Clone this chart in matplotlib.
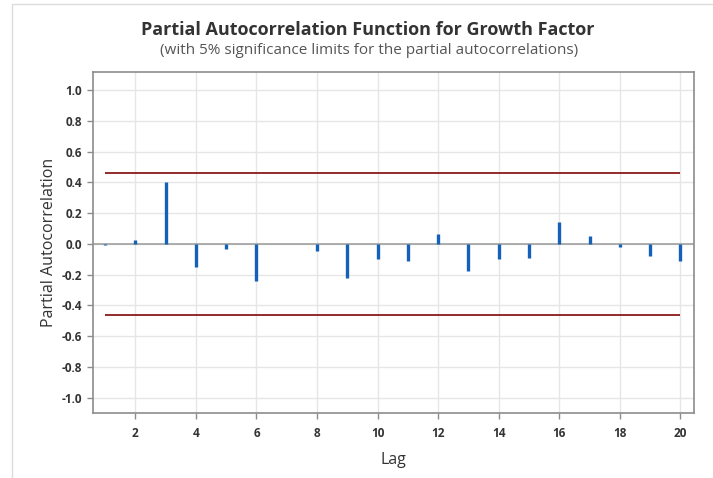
import matplotlib
matplotlib.use("Agg")
import matplotlib.pyplot as plt
from matplotlib.patches import Rectangle
import numpy as np

plt.rcParams["font.family"] = ["Open Sans", "DejaVu Sans"]

# data
lags = list(range(1, 21))
pacf = [-0.005, 0.025, 0.405, -0.15, -0.035, -0.24, 0.0, -0.045, -0.223, -0.10,
        -0.11, 0.063, -0.175, -0.10, -0.09, 0.14, 0.052, -0.02, -0.078, -0.11]
sig_limit = 0.46
xticks = [2, 4, 6, 8, 10, 12, 14, 16, 18, 20]
yticks = [-1.0, -0.8, -0.6, -0.4, -0.2, 0.0, 0.2, 0.4, 0.6, 0.8, 1.0]

W, H = 713, 478
fig = plt.figure(figsize=(W / 100, H / 100), dpi=100)
fig.patch.set_facecolor("white")

# light frame round the graph region
fig.patches.append(Rectangle((12 / W, -0.05), 1.1, (H - 4) / H + 0.05,
                             transform=fig.transFigure, fill=False,
                             edgecolor="#dcdcdc", linewidth=1.0))

ax = fig.add_axes([93 / W, (H - 413) / H, (694 - 93) / W, (413 - 72) / H])

ax.set_xlim(0.6, 20.45)
ax.set_ylim(-1.1, 1.118)

ax.set_xticks(xticks)
ax.set_yticks(yticks)
ax.set_xticklabels([str(t) for t in xticks])
ax.set_yticklabels(["%.1f" % t for t in yticks])

ax.grid(True, color="#e6e6e6", linewidth=1.0)
ax.set_axisbelow(True)

ax.axhline(0, color="#a0a0a0", linewidth=1.2, zorder=2)
ax.hlines([sig_limit, -sig_limit], lags[0], lags[-1], color="#8b1a1a",
          linewidth=1.3, zorder=3)
ax.vlines(lags, 0, pacf, color="#1560b8", linewidth=2.4, zorder=4)

for s in ax.spines.values():
    s.set_color("#8c8c8c")
    s.set_linewidth(1.2)

ax.tick_params(axis="both", direction="out", length=4, width=1,
               color="#8c8c8c", labelsize=8.5, labelcolor="#333333")
ax.tick_params(axis="y", pad=4)
ax.tick_params(axis="x", pad=6)
for lbl in ax.get_xticklabels() + ax.get_yticklabels():
    lbl.set_fontweight("bold")

ax.set_xlabel("Lag", fontsize=11.5, color="#333333", labelpad=9)
ax.set_ylabel("Partial Autocorrelation", fontsize=11.5, color="#333333", labelpad=3)

fig.text(368 / W, 1 - 30 / H, "Partial Autocorrelation Function for Growth Factor",
         ha="center", va="center", fontsize=13, fontweight="bold", color="#333333")
fig.text(369 / W, 1 - 50 / H, "(with 5% significance limits for the partial autocorrelations)",
         ha="center", va="center", fontsize=11, color="#555555")

fig.savefig("out.png", dpi=100)
